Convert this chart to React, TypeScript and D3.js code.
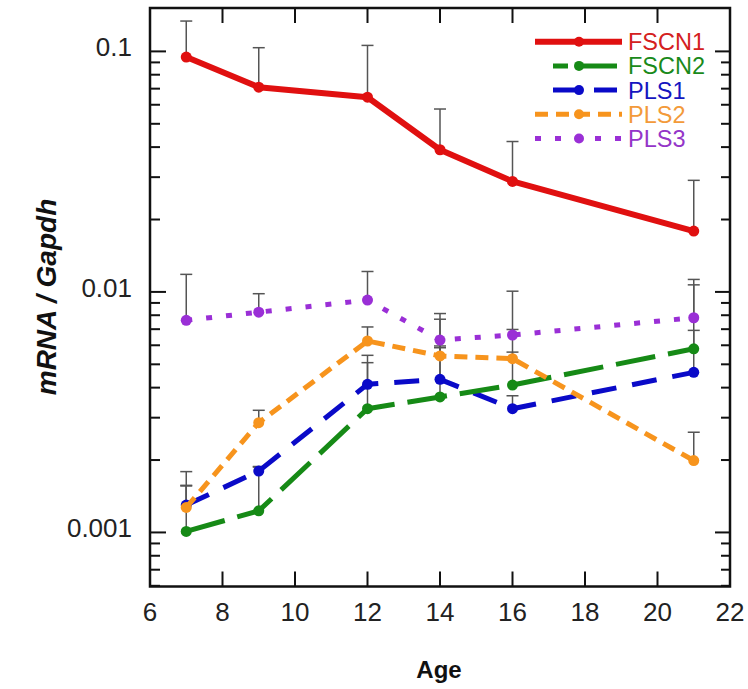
import React from 'react'
import * as d3 from 'd3'

// ages on the x axis
const ages = [7, 9, 12, 14, 16, 21]

// mean mRNA / Gapdh per series, plus the upper error bar (SD)
const fscn1 = [0.0947, 0.071, 0.0645, 0.039, 0.0288, 0.0179]
const fscn1Sd = [0.039, 0.0326, 0.0414, 0.0186, 0.0134, 0.0112]
const fscn2 = [0.00101, 0.00123, 0.00327, 0.00366, 0.0041, 0.0058]
const fscn2Sd = [0.00055, 0.00064, 0.00181, 0.0022, 0.00152, 0.0049]
const pls1 = [0.0013, 0.0018, 0.00413, 0.00433, 0.00327, 0.00463]
const pls1Sd = [0.00027, 0.00008, 0.00132, 0.00163, 0.00043, 0.00229]
const pls2 = [0.00127, 0.00286, 0.00625, 0.00542, 0.00528, 0.00199]
const pls2Sd = [0.00052, 0.00036, 0.0009, 0.00228, 0.0017, 0.00062]
const pls3 = [0.00762, 0.00824, 0.00925, 0.00631, 0.00662, 0.00781]
const pls3Sd = [0.00421, 0.00159, 0.00291, 0.00182, 0.00345, 0.00346]

const xTicks = [6, 8, 10, 12, 14, 16, 18, 20, 22]
const yTickLabels = ['0.001', '0.01', '0.1']

const series = [
  { name: 'FSCN1', values: fscn1, sd: fscn1Sd, color: '#e01010', text: '#d42020', dash: null, width: 6, lx: [535, 622], off: 0 },
  { name: 'FSCN2', values: fscn2, sd: fscn2Sd, color: '#168a16', text: '#1a8a1a', dash: '40,13', width: 5, lx: [553, 617], off: 25 },
  { name: 'PLS1', values: pls1, sd: pls1Sd, color: '#0a0ac8', text: '#1515c0', dash: '25,16', width: 5, lx: [553, 617], off: 0 },
  { name: 'PLS2', values: pls2, sd: pls2Sd, color: '#f7941d', text: '#f39a3a', dash: '13,8', width: 5, lx: [535, 622], off: 0 },
  { name: 'PLS3', values: pls3, sd: pls3Sd, color: '#9a2fd6', text: '#9435c8', dash: '6,14', width: 5, lx: [535, 622], off: 0 },
]
// back-to-front drawing order
const drawOrder = ['PLS3', 'PLS1', 'FSCN2', 'PLS2', 'FSCN1']

const left = 150
const right = 730
const top = 8
const bottom = 586.5

export default function App() {
  const x = d3.scaleLinear().domain([6, 22]).range([left, right])
  const y = d3.scaleLog().domain([0.000596, 0.1515]).range([bottom, top])

  const line = d3
    .line<number>()
    .x((d, i) => x(ages[i]))
    .y(d => y(d))

  // minor ticks 2..9 in each decade that falls in the frame
  const minor: number[] = []
  for (const dec of [0.0001, 0.001, 0.01, 0.1]) {
    for (let k = 2; k <= 9; k++) {
      const v = dec * k
      if (v > 0.000596 && v < 0.1515) minor.push(v)
    }
  }
  const major = yTickLabels.map(Number)

  const font = 'Liberation Sans, Arial, sans-serif'
  const ordered = drawOrder.map(n => series.find(s => s.name === n)!)

  return (
    <svg width={748} height={689} style={{ position: 'absolute', left: 0, top: 0, background: '#fff' }}>
      {/* error bars (upper only) */}
      {ordered.map(s => (
        <g key={'err' + s.name} stroke="#555" strokeWidth={1.5}>
          {s.values.map((v, i) => {
            const cx = x(ages[i])
            const yTop = y(v + s.sd[i])
            return (
              <g key={i}>
                <line x1={cx} x2={cx} y1={y(v)} y2={yTop} />
                <line x1={cx - 6} x2={cx + 6} y1={yTop} y2={yTop} />
              </g>
            )
          })}
        </g>
      ))}

      {/* series lines and markers */}
      {ordered.map(s => (
        <g key={s.name}>
          <path
            d={line(s.values) || ''}
            fill="none"
            stroke={s.color}
            strokeWidth={s.width}
            strokeDasharray={s.dash || undefined}
            strokeLinejoin="round"
          />
          {s.values.map((v, i) => (
            <circle key={i} cx={x(ages[i])} cy={y(v)} r={5.5} fill={s.color} />
          ))}
        </g>
      ))}

      {/* frame */}
      <rect x={left} y={top} width={right - left} height={bottom - top} fill="none" stroke="#111" strokeWidth={2.5} />

      {/* x ticks, bottom and top, pointing inward */}
      {xTicks.map(t => (
        <g key={'xt' + t} stroke="#111" strokeWidth={2}>
          <line x1={x(t)} x2={x(t)} y1={bottom} y2={bottom - 15} />
          <line x1={x(t)} x2={x(t)} y1={top} y2={top + 15} />
        </g>
      ))}
      {xTicks.map(t => (
        <text key={'xl' + t} x={x(t)} y={621} textAnchor="middle" fontFamily={font} fontSize={26} fill="#222">
          {t}
        </text>
      ))}

      {/* y ticks, left and right */}
      {major.map(v => (
        <g key={'ym' + v} stroke="#111" strokeWidth={2}>
          <line x1={left} x2={left + 16} y1={y(v)} y2={y(v)} />
          <line x1={right} x2={right - 15} y1={y(v)} y2={y(v)} />
        </g>
      ))}
      {minor.map(v => (
        <g key={'yn' + v} stroke="#111" strokeWidth={2}>
          <line x1={left} x2={left + 10} y1={y(v)} y2={y(v)} />
          <line x1={right} x2={right - 9} y1={y(v)} y2={y(v)} />
        </g>
      ))}
      {yTickLabels.map(l => (
        <text key={'yl' + l} x={132} y={y(Number(l)) + 5} textAnchor="end" fontFamily={font} fontSize={26} fill="#222">
          {l}
        </text>
      ))}

      {/* axis titles */}
      <text x={439} y={678} textAnchor="middle" fontFamily={font} fontSize={24} fontWeight="bold" fill="#111">
        Age
      </text>
      <text
        transform="translate(56,297) rotate(-90)"
        textAnchor="middle"
        fontFamily={font}
        fontSize={28}
        fontWeight="bold"
        fontStyle="italic"
        fill="#111"
      >
        mRNA / Gapdh
      </text>

      {/* legend */}
      {series.map((s, i) => {
        const ly = 41.7 + i * 24.2
        return (
          <g key={'lg' + s.name}>
            <line
              x1={s.lx[0]}
              x2={s.lx[1]}
              y1={ly}
              y2={ly}
              stroke={s.color}
              strokeWidth={s.width}
              strokeDasharray={s.dash || undefined}
              strokeDashoffset={s.off}
            />
            <circle cx={579} cy={ly} r={5} fill={s.color} />
            <text x={628} y={ly + 8.5} fontFamily={font} fontSize={23.5} fill={s.text}>
              {s.name}
            </text>
          </g>
        )
      })}
    </svg>
  )
}
